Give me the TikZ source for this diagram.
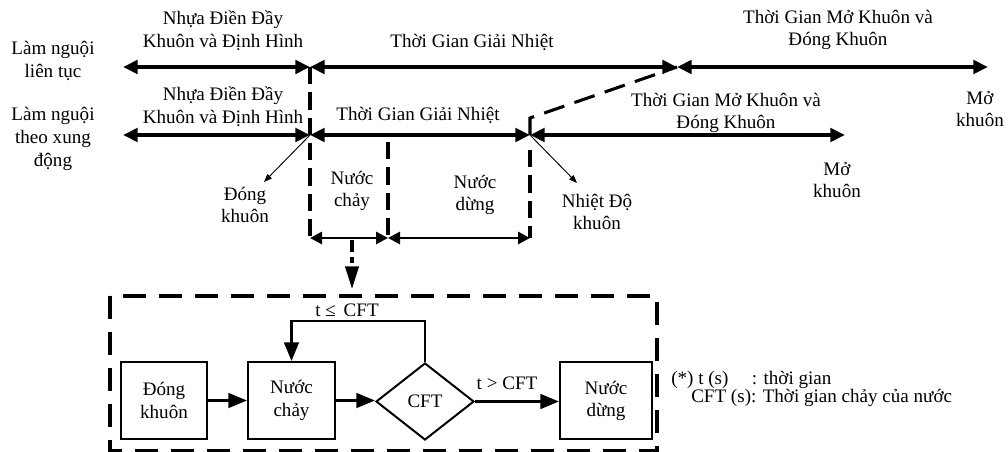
\documentclass[tikz,border=0pt]{standalone}
\usepackage{fontspec}
\setmainfont{Liberation Serif}
\usetikzlibrary{arrows.meta,shapes.geometric}
\newcommand\myfs{\fontsize{14.3}{17}\selectfont}
\begin{document}
\begin{tikzpicture}[x=0.75pt,y=-0.75pt,
  lbl/.style={align=center,font=\myfs,inner sep=0pt},
  bigline/.style={line width=3pt},
  rowarrow/.style={bigline,{Triangle[length=11pt,width=10pt]}-{Triangle[length=11pt,width=10pt]}},
  subarrow/.style={line width=2.2pt,{Triangle[length=9pt,width=9pt]}-{Triangle[length=9pt,width=9pt]}},
  thinarrow/.style={line width=0.7pt,-{Triangle[length=6pt,width=4.5pt]}},
  vdash/.style={line width=2.3pt,dash pattern=on 13pt off 6pt},
  diagdash/.style={line width=2.3pt,dash pattern=on 16pt off 8pt},
  framedash/.style={line width=2.3pt,dash pattern=on 17pt off 10pt},
  flowbox/.style={draw,line width=1.5pt,minimum height=57.75pt,align=center,font=\myfs,inner sep=0pt},
  flowarrow/.style={line width=1.9pt,-{Triangle[length=14pt,width=11pt]}},
  decision/.style={draw,diamond,aspect=1.27,line width=1.5pt,minimum width=73.5pt,minimum height=57.75pt,inner sep=0pt,font=\myfs}
]
\useasboundingbox (0,0) rectangle (1008,452);

% side labels
\node[lbl] (lbl1) at (53,61) {Làm nguội\\liên tục};
\node[lbl] (lbl2) at (53,139) {Làm nguội\\theo xung\\động};

% row coordinates
\coordinate (r1a) at (123,67);
\coordinate (r1b) at (310,67);
\coordinate (r1c) at (677,67);
\coordinate (r1d) at (988,67);
\coordinate (r2a) at (123,135);
\coordinate (r2b) at (310,135);
\coordinate (r2c) at (530,135);
\coordinate (r2d) at (845,135);
\coordinate (r2k) at (530,118);
\coordinate (b1) at (310,238);
\coordinate (b2) at (388,238);
\coordinate (b3) at (530,238);
\coordinate (v2top) at (388,142);
\coordinate (v3top) at (530,150);

% dashed verticals
\draw[vdash] (r1b) -- (b1);
\draw[vdash] (v2top) -- (b2);
\draw[vdash] (v3top) -- (b3);
\draw[diagdash] (r2c) -- (r2k) -- (r1c);

% row 1
\draw[rowarrow] (r1a) -- (r1b);
\draw[rowarrow] (r1b) -- (r1c);
\draw[rowarrow] (r1c) -- (r1d);
% row 2
\draw[rowarrow] (r2a) -- (r2b);
\draw[rowarrow] (r2b) -- (r2c);
\draw[rowarrow] (r2c) -- (r2d);

% row labels
\node[lbl] (t1a) at (223,31) {Nhựa Điền Đầy\\Khuôn và Định Hình};
\node[lbl] (t1b) at (472,42) {Thời Gian Giải Nhiệt};
\node[lbl] (t1c) at (838,30) {Thời Gian Mở Khuôn và\\Đóng Khuôn};
\node[lbl] (t2a) at (223,107) {Nhựa Điền Đầy\\Khuôn và Định Hình};
\node[lbl] (t2b) at (418,115) {Thời Gian Giải Nhiệt};
\node[lbl] (t2c) at (726,113) {Thời Gian Mở Khuôn và\\Đóng Khuôn};
\node[lbl] (mo1) at (980,109) {Mở\\khuôn};
\node[lbl] (mo2) at (837,180) {Mở\\khuôn};
\node[lbl] (dong) at (245,205) {Đóng\\khuôn};
\node[lbl] (nhiet) at (597,212) {Nhiệt Độ\\khuôn};
\node[lbl] (nc) at (352,191) {Nước\\chảy};
\node[lbl] (nd) at (475,195) {Nước\\dừng};

% thin pointers
\coordinate (dongtip) at (264,182);
\coordinate (nhiettip) at (577,183);
\draw[thinarrow] (r2b) -- (dongtip);
\draw[thinarrow] (r2c) -- (nhiettip);

% sub-interval arrows
\draw[subarrow] (b1) -- (b2);
\draw[subarrow] (b2) -- (b3);

% dash-dot link down to the flowchart
\coordinate (linktop) at (352,240);
\coordinate (linktip) at (352,289);
\draw[line width=2.3pt,dash pattern=on 9pt off 4pt on 4pt off 4pt,-{Triangle[length=17pt,width=10pt]}] (linktop) -- (linktip);

% dashed frame
\draw[framedash] (110,296) rectangle (657,451);

% flowchart
\node[flowbox,minimum width=64.5pt] (box1) at (164,400.5) {Đóng\\khuôn};
\node[flowbox,minimum width=65.25pt] (box2) at (291.5,400.5) {Nước\\chảy};
\node[decision] (dia) at (425,401.5) {CFT};
\node[flowbox,minimum width=69pt] (box3) at (606,401) {Nước\\dừng};
\coordinate (fbtop) at (0,321);
\draw[flowarrow] (box1) -- (box2);
\draw[flowarrow] (box2.east) -- (box2.east -| dia.west);
\draw[flowarrow] (dia.east) -- (dia.east -| box3.west);
\draw[flowarrow] (dia.north) -- (dia.north |- fbtop) -| (box2.north);
\node[lbl] (le) at (347,310) {t ≤ \,CFT};
\node[lbl] (gt) at (507,383) {t > CFT};

% legend
\node[anchor=west,align=left,inner sep=0pt,font=\myfs] (leg) at (671,388.5)
  {\makebox[60.5pt][l]{(*) t (s)}: thời gian\\[-3.5pt]\hspace*{15pt}CFT (s): Thời gian chảy của nước};
\end{tikzpicture}
\end{document}
